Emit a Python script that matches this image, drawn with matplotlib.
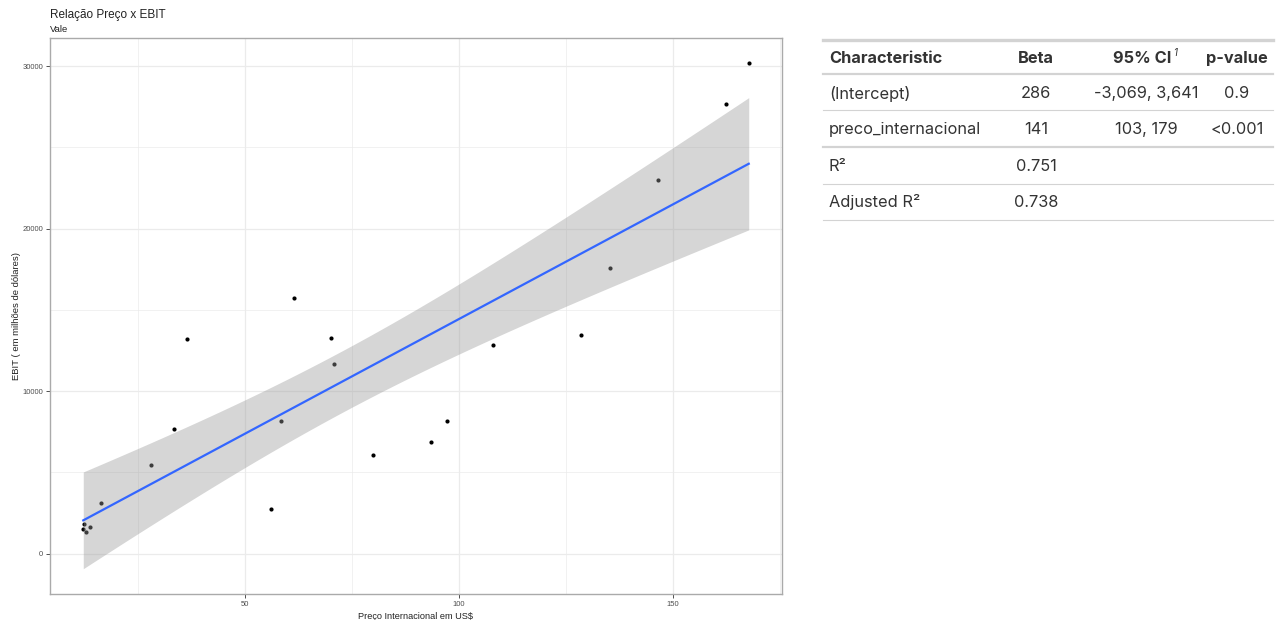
import matplotlib
matplotlib.use("Agg")
import matplotlib.pyplot as plt
from matplotlib.lines import Line2D
import numpy as np

# dados (Vale)
preco = [12.3, 12.5, 12.9, 13.9, 16.4, 28.1, 33.4, 36.6, 56.1, 58.6, 61.5,
         70.1, 71.0, 79.9, 93.6, 97.4, 108.0, 128.5, 135.3, 146.7, 162.5, 167.8]
ebit = [1534, 1822, 1331, 1656, 3129, 5442, 7638, 13190, 2742, 8147, 15706,
        13252, 11638, 6055, 6853, 8178, 12822, 13436, 17589, 23025, 27687, 30184]

# tabela de regressao
tab_header = ["Characteristic", "Beta", "95% CI", "p-value"]
tab_rows = [
    ["(Intercept)", "286", "-3,069, 3,641", "0.9"],
    ["preco_internacional", "141", "103, 179", "<0.001"],
    ["R²", "0.751", "", ""],
    ["Adjusted R²", "0.738", "", ""],
]

x = np.array(preco)
y = np.array(ebit)
n = len(x)
b1, b0 = np.polyfit(x, y, 1)
resid = y - (b0 + b1 * x)
s = np.sqrt(np.sum(resid ** 2) / (n - 2))
sxx = np.sum((x - x.mean()) ** 2)
t_crit = 2.086  # t(0.975, df=20)
xs = np.linspace(x.min(), x.max(), 80)
fit = b0 + b1 * xs
se = s * np.sqrt(1 / n + (xs - x.mean()) ** 2 / sxx)

W, H = 1286, 620
fig = plt.figure(figsize=(W / 100, H / 100), dpi=100)
plt.rcParams['font.family'] = ['Liberation Sans', 'DejaVu Sans']

ax = fig.add_axes([50 / W, 1 - 594 / H, (782 - 50) / W, (594 - 38) / H])
ax.scatter(x, y, s=9, color='black', zorder=2, linewidths=0)
ax.fill_between(xs, fit - t_crit * se, fit + t_crit * se, color='#999999',
                alpha=0.4, linewidth=0, zorder=3)
ax.plot(xs, fit, color='#3366FF', linewidth=1.6, zorder=4)

ax.set_xticks([50, 100, 150])
ax.set_xticks([25, 75, 125, 175], minor=True)
ax.set_yticks([0, 10000, 20000, 30000])
ax.set_yticks([5000, 15000, 25000], minor=True)
ax.grid(True, which='major', color='#ebebeb', linewidth=0.9)
ax.grid(True, which='minor', color='#ebebeb', linewidth=0.5)
ax.set_axisbelow(True)
ax.tick_params(which='major', length=3, width=0.6, color='#333333',
               labelsize=5.5, labelcolor='#4d4d4d', pad=2)
ax.tick_params(which='minor', length=0)
for sp in ax.spines.values():
    sp.set_color('#aaaaaa')
    sp.set_linewidth(1.0)
ax.set_xlabel("Preço Internacional em US$", fontsize=6.6, color='#222222', labelpad=3)
ax.set_ylabel("EBIT ( em milhões de dólares)", fontsize=6.8, color='#222222', labelpad=1)

fig.text(50 / W, 1 - 18 / H, "Relação Preço x EBIT", fontsize=8.5, color='#222222')
fig.text(50 / W, 1 - 32 / H, "Vale", fontsize=6.8, color='#222222')

# tabela
tx = fig.add_axes([0, 0, 1, 1], zorder=5)
tx.set_xlim(0, W)
tx.set_ylim(H, 0)
tx.axis('off')
tx.patch.set_alpha(0)

line_c = '#d3d3d3'
for yy, lw in [(40, 2.4), (73.5, 1.6), (110, 0.8), (147, 1.6), (184, 0.8), (220, 0.8)]:
    tx.add_line(Line2D([823, 1273], [yy, yy], color=line_c, linewidth=lw))

tfont = ['Inter', 'DejaVu Sans']
col_x = [829, 1036, 1146, 1237]
col_ha = ['left', 'center', 'center', 'center']
txt_c = '#333333'
hy = 58.5
for i, h in enumerate(tab_header):
    px = col_x[i] - 4 if i == 2 else col_x[i]
    tx.text(px, hy, h, ha=col_ha[i], va='center', fontsize=11.8, fontweight='bold',
            color=txt_c, family=tfont)
tx.text(1173, hy - 5, "1", ha='left', va='center', fontsize=7, style='italic',
        color=txt_c, family=tfont)

row_y = [93.5, 129.5, 166.5, 202.5]
for r, row in enumerate(tab_rows):
    for i, v in enumerate(row):
        if v:
            tx.text(col_x[i], row_y[r], v, ha=col_ha[i], va='center', fontsize=11.8,
                    color=txt_c, family=tfont)

fig.savefig("out.png", dpi=100)
